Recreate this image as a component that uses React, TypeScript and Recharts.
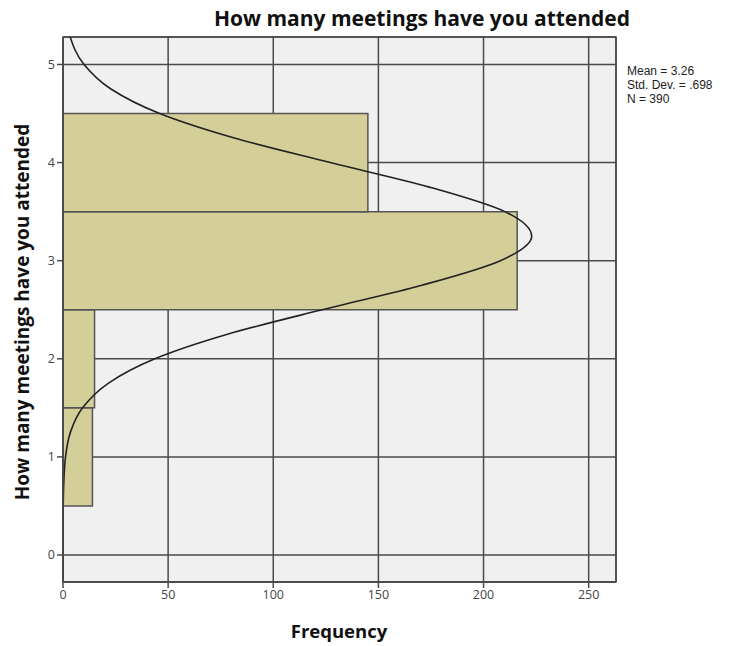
import React from "react";
import {
  ComposedChart,
  Line,
  XAxis,
  YAxis,
  CartesianGrid,
  ReferenceArea,
} from "recharts";

// histogram bins (meetings attended) and their frequencies
const binLow = [0.5, 1.5, 2.5, 3.5];
const binHigh = [1.5, 2.5, 3.5, 4.5];
const binCount = [14, 15, 216, 145];

// normal curve (level -> frequency)
const curveLevels = [-0.25, 0, 0.25, 0.5, 0.75, 1, 1.25, 1.5, 1.75, 2, 2.25, 2.5, 2.75, 3, 3.25, 3.5, 3.75, 4, 4.25, 4.5, 4.75, 5, 5.3];
const curveFreq = [0, 0, 0, 0.1, 0.4, 1.2, 3.5, 9.3, 21.5, 43.7, 78.2, 123.2, 170.7, 208, 222.9, 210.1, 174.2, 127.1, 81.5, 46, 22.8, 10, 3.1];

const xTicks = [0, 50, 100, 150, 200, 250];
const yTicks = [0, 1, 2, 3, 4, 5];
const stats = ["Mean = 3.26", "Std. Dev. = .698", "N = 390"];

const curveData = curveLevels.map((y, i) => ({ y, f: curveFreq[i] }));

const font = "'Open Sans', 'DejaVu Sans', sans-serif";
const gridColor = "#4a4a4a";

export default function App() {
  return (
    <div style={{ position: "absolute", left: 0, top: 0, width: 739, height: 646, background: "#fff", fontFamily: font }}>
      <ComposedChart
        width={739}
        height={646}
        layout="vertical"
        data={curveData}
        margin={{ top: 37, right: 123, bottom: 63, left: 62 }}
      >
        <CartesianGrid stroke={gridColor} strokeWidth={1.5} fill="#f0f0f0" />
        <XAxis
          type="number"
          domain={[0, 263]}
          ticks={xTicks}
          allowDataOverflow
          height={1}
          tickSize={6}
          stroke={gridColor}
          strokeWidth={1.5}
          tick={{ fontSize: 12.5, fill: "#444", fontFamily: font }}
          tickLine={{ stroke: gridColor, strokeWidth: 1.5 }}
        />
        <YAxis
          type="number"
          dataKey="y"
          domain={[-0.275, 5.28]}
          ticks={yTicks}
          reversed
          allowDataOverflow
          width={1}
          tickSize={6}
          stroke={gridColor}
          strokeWidth={1.5}
          tick={{ fontSize: 12.5, fill: "#444", fontFamily: font }}
          tickLine={{ stroke: gridColor, strokeWidth: 1.5 }}
        />
        {binCount.map((c, i) => (
          <ReferenceArea
            key={i}
            x1={0}
            x2={c}
            y1={binLow[i]}
            y2={binHigh[i]}
            fill="#d4cf98"
            fillOpacity={1}
            stroke="#555"
            strokeWidth={1.5}
          />
        ))}
        <Line
          type="monotoneY"
          dataKey="f"
          stroke="#222"
          strokeWidth={1.6}
          dot={false}
          isAnimationActive={false}
        />
        <ReferenceArea
          x1={0}
          x2={263}
          y1={-0.275}
          y2={5.28}
          fill="none"
          stroke={gridColor}
          strokeWidth={1.5}
        />
      </ComposedChart>
      <div style={{ position: "absolute", left: 122, width: 600, top: 4, textAlign: "center", fontWeight: 700, fontSize: 21, color: "#111", whiteSpace: "nowrap" }}>
        How many meetings have you attended
      </div>
      <div style={{ position: "absolute", left: 62, width: 554, top: 618, textAlign: "center", fontWeight: 700, fontSize: 18.5, color: "#111" }}>
        Frequency
      </div>
      <div
        style={{
          position: "absolute",
          left: 22,
          top: 312,
          transform: "translate(-50%, -50%) rotate(-90deg)",
          fontWeight: 700,
          fontSize: 19,
          color: "#111",
          whiteSpace: "nowrap",
        }}
      >
        How many meetings have you attended
      </div>
      <div style={{ position: "absolute", left: 627, top: 64, fontSize: 12, lineHeight: "14px", color: "#222", fontFamily: "'Liberation Sans', Arial, sans-serif" }}>
        {stats.map((s) => (
          <div key={s}>{s}</div>
        ))}
      </div>
    </div>
  );
}
